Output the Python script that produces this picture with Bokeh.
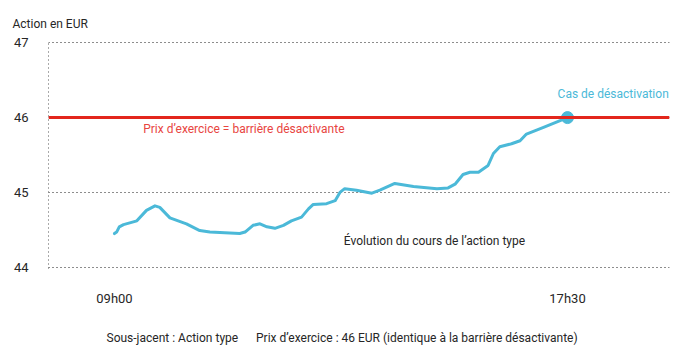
from bokeh.plotting import figure
from bokeh.models import Range1d, FixedTicker, Span, Label, Title
from bokeh.embed import file_html
from bokeh.resources import INLINE

# Data (hours of the day, share price in EUR)
hours = [9.00, 9.04, 9.09, 9.17, 9.42, 9.60, 9.76, 9.85, 10.04, 10.35, 10.60, 10.79,
         11.35, 11.45, 11.60, 11.73, 11.86, 12.01, 12.17, 12.32, 12.51, 12.64, 12.73,
         12.98, 13.14, 13.23, 13.32, 13.54, 13.83, 13.98, 14.26, 14.61, 15.05, 15.26,
         15.39, 15.54, 15.67, 15.83, 16.01, 16.11, 16.23, 16.45, 16.61, 16.73, 17.05, 17.50]
price = [44.45, 44.47, 44.54, 44.57, 44.62, 44.76, 44.82, 44.80, 44.66, 44.58, 44.49, 44.47,
         44.45, 44.47, 44.56, 44.58, 44.54, 44.52, 44.56, 44.62, 44.67, 44.78, 44.84,
         44.85, 44.89, 45.00, 45.05, 45.03, 44.99, 45.03, 45.12, 45.08, 45.05, 45.06,
         45.11, 45.24, 45.27, 45.27, 45.36, 45.52, 45.61, 45.65, 45.69, 45.78, 45.87, 46.00]
barrier = 46.0
knockout_hour = [17.5]
knockout_price = [46.0]
y_ticks = [44, 45, 46, 47]
x_ticks = [9.0, 17.5]
x_tick_labels = {9.0: "09h00", 17.5: "17h30"}

FONT = "Roboto"
FS = "12px"
BLUE = "#4BB9D8"
RED = "#E3261C"
DARK = "#262626"

p = figure(width=693, height=354, frame_width=621, frame_height=227,
           x_range=Range1d(7.762, 19.414), y_range=Range1d(43.983, 47.017),
           output_backend="svg", toolbar_location=None,
           min_border_left=48, min_border_right=24, min_border_top=41, min_border_bottom=86)
p.outline_line_color = None
p.background_fill_color = "white"
p.border_fill_color = "white"

# titles outside the frame
top = Title(text="Action en EUR", align="left", offset=-36, standoff=21,
            text_font=FONT, text_font_size=FS, text_font_style="normal", text_color=DARK)
p.add_layout(top, "above")
cap = Title(text="Sous-jacent : Action type" + "\u00a0" * 6 +
            "Prix d’exercice : 46 EUR (identique à la barrière désactivante)",
            align="left", offset=58, standoff=40,
            text_font=FONT, text_font_size=FS, text_font_style="normal", text_color=DARK)
p.add_layout(cap, "below")

# axes
p.xaxis.ticker = FixedTicker(ticks=x_ticks)
p.xaxis.major_label_overrides = x_tick_labels
p.xaxis.axis_line_color = None
p.xaxis.major_tick_line_color = None
p.xaxis.minor_tick_line_color = None
p.xaxis.major_label_standoff = 16
p.xaxis.major_label_text_font = FONT
p.xaxis.major_label_text_font_size = "13px"
p.xaxis.major_label_text_color = DARK

p.yaxis.ticker = FixedTicker(ticks=y_ticks)
p.yaxis.axis_line_dash = "1 3"
p.yaxis.axis_line_color = "#555555"
p.yaxis.major_tick_line_color = None
p.yaxis.minor_tick_line_color = None
p.yaxis.major_label_standoff = 14
p.yaxis.major_label_text_font = FONT
p.yaxis.major_label_text_font_size = "13px"
p.yaxis.major_label_text_color = DARK

p.xgrid.grid_line_color = None
p.ygrid.ticker = FixedTicker(ticks=y_ticks)
p.ygrid.grid_line_color = "#1a1a1a"
p.ygrid.grid_line_dash = "1 3"
p.ygrid.grid_line_width = 1

# barrier
p.add_layout(Span(location=barrier, dimension="width", line_color=RED, line_width=3))

# price path
p.line(hours, price, line_color=BLUE, line_width=3, line_cap="round", line_join="round")
p.scatter(knockout_hour, knockout_price, size=12, fill_color=BLUE, line_color=BLUE)

# annotations
p.add_layout(Label(x=9.539, y=45.854, text="Prix d’exercice = barrière désactivante",
                   text_font=FONT, text_font_size=FS, text_color="#E8453F",
                   text_baseline="middle", text_align="left"))
p.add_layout(Label(x=19.40, y=46.318, text="Cas de désactivation",
                   text_font=FONT, text_font_size=FS, text_color=BLUE,
                   text_baseline="middle", text_align="right"))
p.add_layout(Label(x=13.302, y=44.357, text="Évolution du cours de l’action type",
                   text_font=FONT, text_font_size=FS, text_color=DARK,
                   text_baseline="middle", text_align="left"))

open("out.html", "w").write(file_html(p, INLINE))
